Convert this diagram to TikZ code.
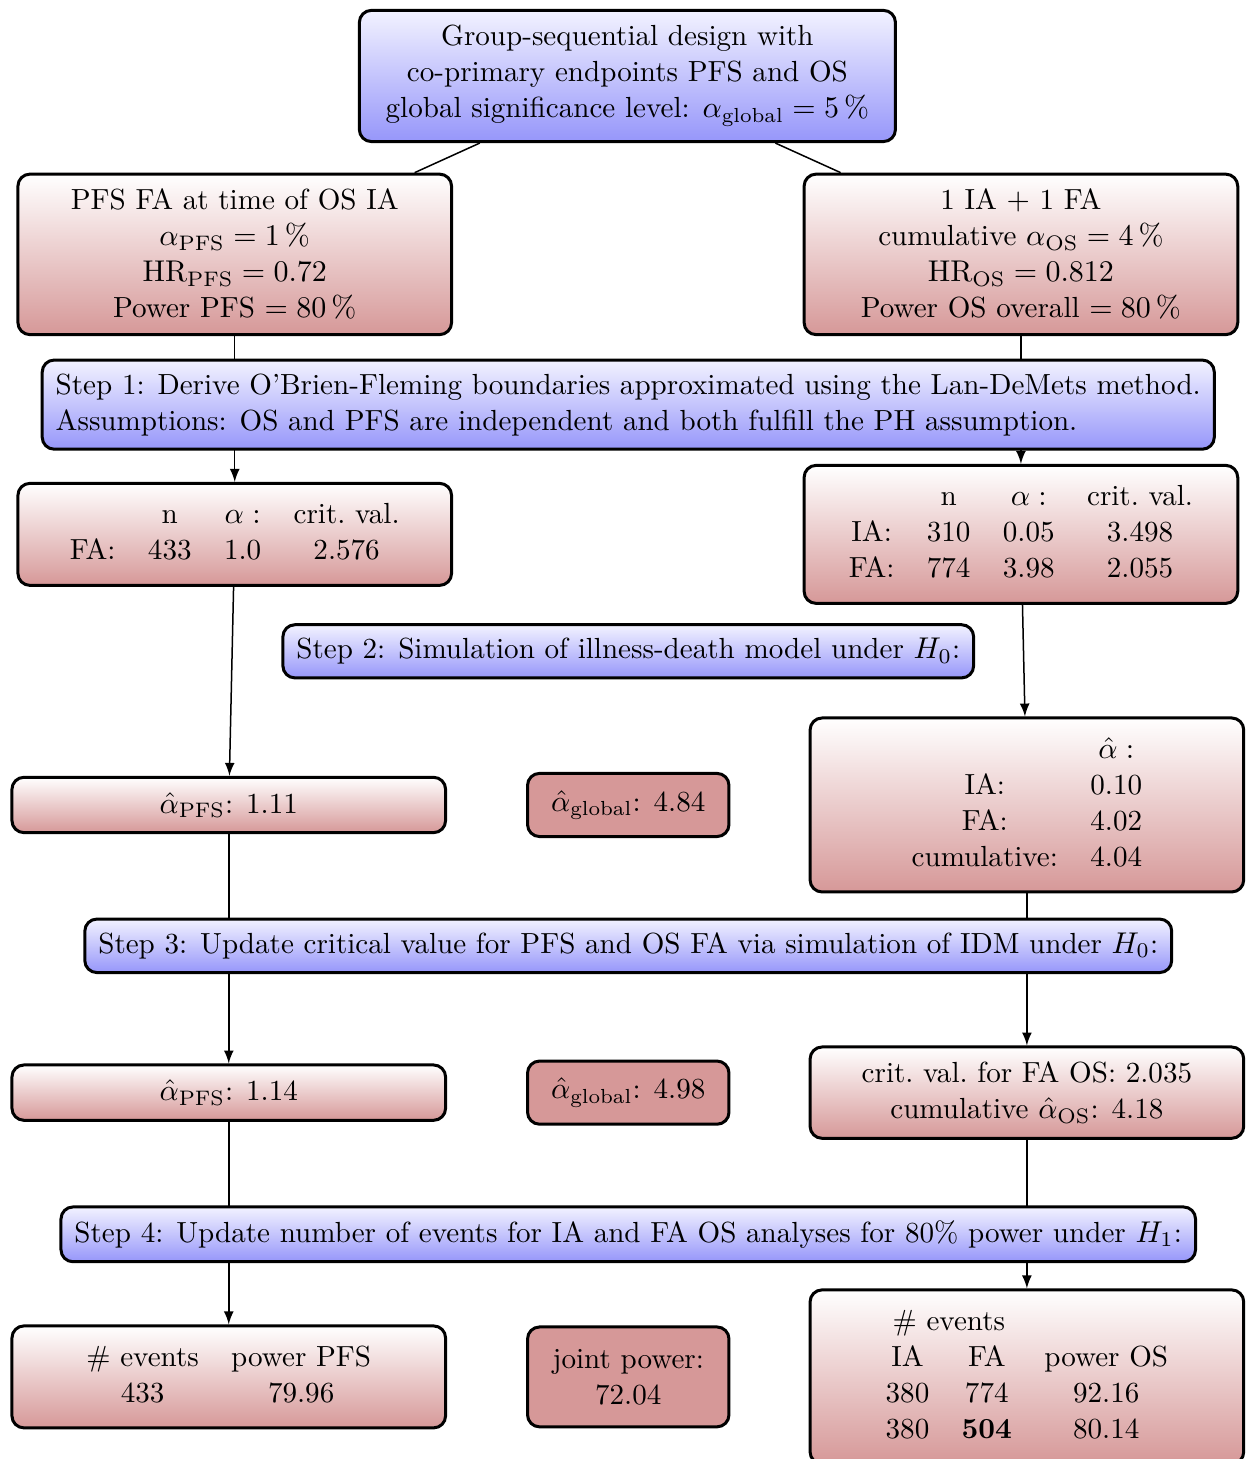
\documentclass[tikz,border=0pt]{standalone}
\usepackage{amsmath}
\usetikzlibrary{backgrounds}
\definecolor{mauve}{RGB}{214,152,152}
\definecolor{lilac}{RGB}{150,150,250}
\setlength{\tabcolsep}{5.4pt}

\tikzset{
  every node/.append style={font=\fontsize{9.7}{12}\selectfont},
  res/.style={draw, line width=1pt, rounded corners=4pt, top color=white, bottom color=mauve, align=center, minimum width=5.08cm, inner sep=5pt},
  stepbox/.style={draw, line width=1pt, rounded corners=4pt, top color=blue!5!white, bottom color=lilac, align=left, inner sep=4.5pt},
  glob/.style={draw, line width=1pt, rounded corners=4pt, fill=mauve, align=center, minimum width=2.36cm, minimum height=0.74cm},
  conn/.style={-latex, line width=0.5pt}
}

\begin{document}
\begin{tikzpicture}
\useasboundingbox (0,0) rectangle (14.655,-17.092);
% design
\node[res, top color=blue!5!white, bottom color=lilac, minimum width=6.28cm] (design) at (7.35,-0.89)
  {Group-sequential design with\\ co-primary endpoints PFS and OS\\ global significance level: $\alpha_{\text{global}}=5\,\%$};
\node[res] (pfs) at (2.75,-2.98)
  {PFS FA at time of OS IA\\ $\alpha_{\mathrm{PFS}}=1\,\%$\\ $\mathrm{HR}_{\mathrm{PFS}}=0.72$\\ Power PFS $=80\,\%$};
\node[res] (os) at (11.96,-2.98)
  {1 IA $+$ 1 FA\\ cumulative $\alpha_{\mathrm{OS}}=4\,\%$\\ $\mathrm{HR}_{\mathrm{OS}}=0.812$\\ Power OS overall $=80\,\%$};
% step 1 results
\node[res] (bndpfs) at (2.75,-6.26)
  {\begin{tabular}{cccc} & n & $\alpha:$ & crit.\ val.\\ FA: & 433 & 1.0 & 2.576\end{tabular}};
\node[res] (bndos) at (11.96,-6.26)
  {\begin{tabular}{cccc} & n & $\alpha:$ & crit.\ val.\\ IA: & 310 & 0.05 & 3.498\\ FA: & 774 & 3.98 & 2.055\end{tabular}};
% step 2 results
\node[res] (simpfs) at (2.68,-9.43) {$\hat{\alpha}_{\mathrm{PFS}}$: 1.11};
\node[glob] (simglob) at (7.36,-9.43) {$\hat{\alpha}_{\text{global}}$: 4.84};
\node[res] (simos) at (12.03,-9.43)
  {\begin{tabular}{cc} & $\hat{\alpha}:$\\ IA: & 0.10\\ FA: & 4.02\\ cumulative: & 4.04\end{tabular}};
% step 3 results
\node[res] (updpfs) at (2.68,-12.80) {$\hat{\alpha}_{\mathrm{PFS}}$: 1.14};
\node[glob] (updglob) at (7.36,-12.80) {$\hat{\alpha}_{\text{global}}$: 4.98};
\node[res] (updos) at (12.03,-12.80)
  {crit.\ val.\ for FA OS: 2.035\\ cumulative $\hat{\alpha}_{\mathrm{OS}}$: 4.18};
% step 4 results
\node[res] (evpfs) at (2.68,-16.13)
  {\begin{tabular}{cc}\# events & power PFS\\ 433 & 79.96\end{tabular}};
\node[glob, minimum height=1.17cm] (joint) at (7.36,-16.13) {joint power:\\ 72.04};
\node[res] (evos) at (12.03,-16.13)
  {\begin{tabular}{ccc}\multicolumn{2}{c}{\# events} & \\ IA & FA & power OS\\ 380 & 774 & 92.16\\ 380 & \textbf{504} & 80.14\end{tabular}};
% steps
\node[stepbox] (step1) at (7.36,-4.74)
  {Step 1: Derive O'Brien-Fleming boundaries approximated using the Lan-DeMets method.\\
   Assumptions: OS and PFS are independent and both fulfill the PH assumption.};
\node[stepbox] (step2) at (7.36,-7.63) {Step 2: Simulation of illness-death model under $H_0$:};
\node[stepbox] (step3) at (7.36,-11.08) {Step 3: Update critical value for PFS and OS FA via simulation of IDM under $H_0$:};
\node[stepbox] (step4) at (7.36,-14.46) {Step 4: Update number of events for IA and FA OS analyses for 80\% power under $H_1$:};
% connectors
\begin{scope}[on background layer]
\draw[line width=0.5pt] (design) -- (pfs);
\draw[line width=0.5pt] (design) -- (os);
\draw[conn] (pfs) -- (bndpfs);
\draw[conn] (os) -- (bndos);
\draw[conn] (bndpfs) -- (simpfs);
\draw[conn] (bndos) -- (simos);
\draw[conn] (simpfs) -- (updpfs);
\draw[conn] (simos) -- (updos);
\draw[conn] (updpfs) -- (evpfs);
\draw[conn] (updos) -- (evos);
\end{scope}
\end{tikzpicture}
\end{document}
